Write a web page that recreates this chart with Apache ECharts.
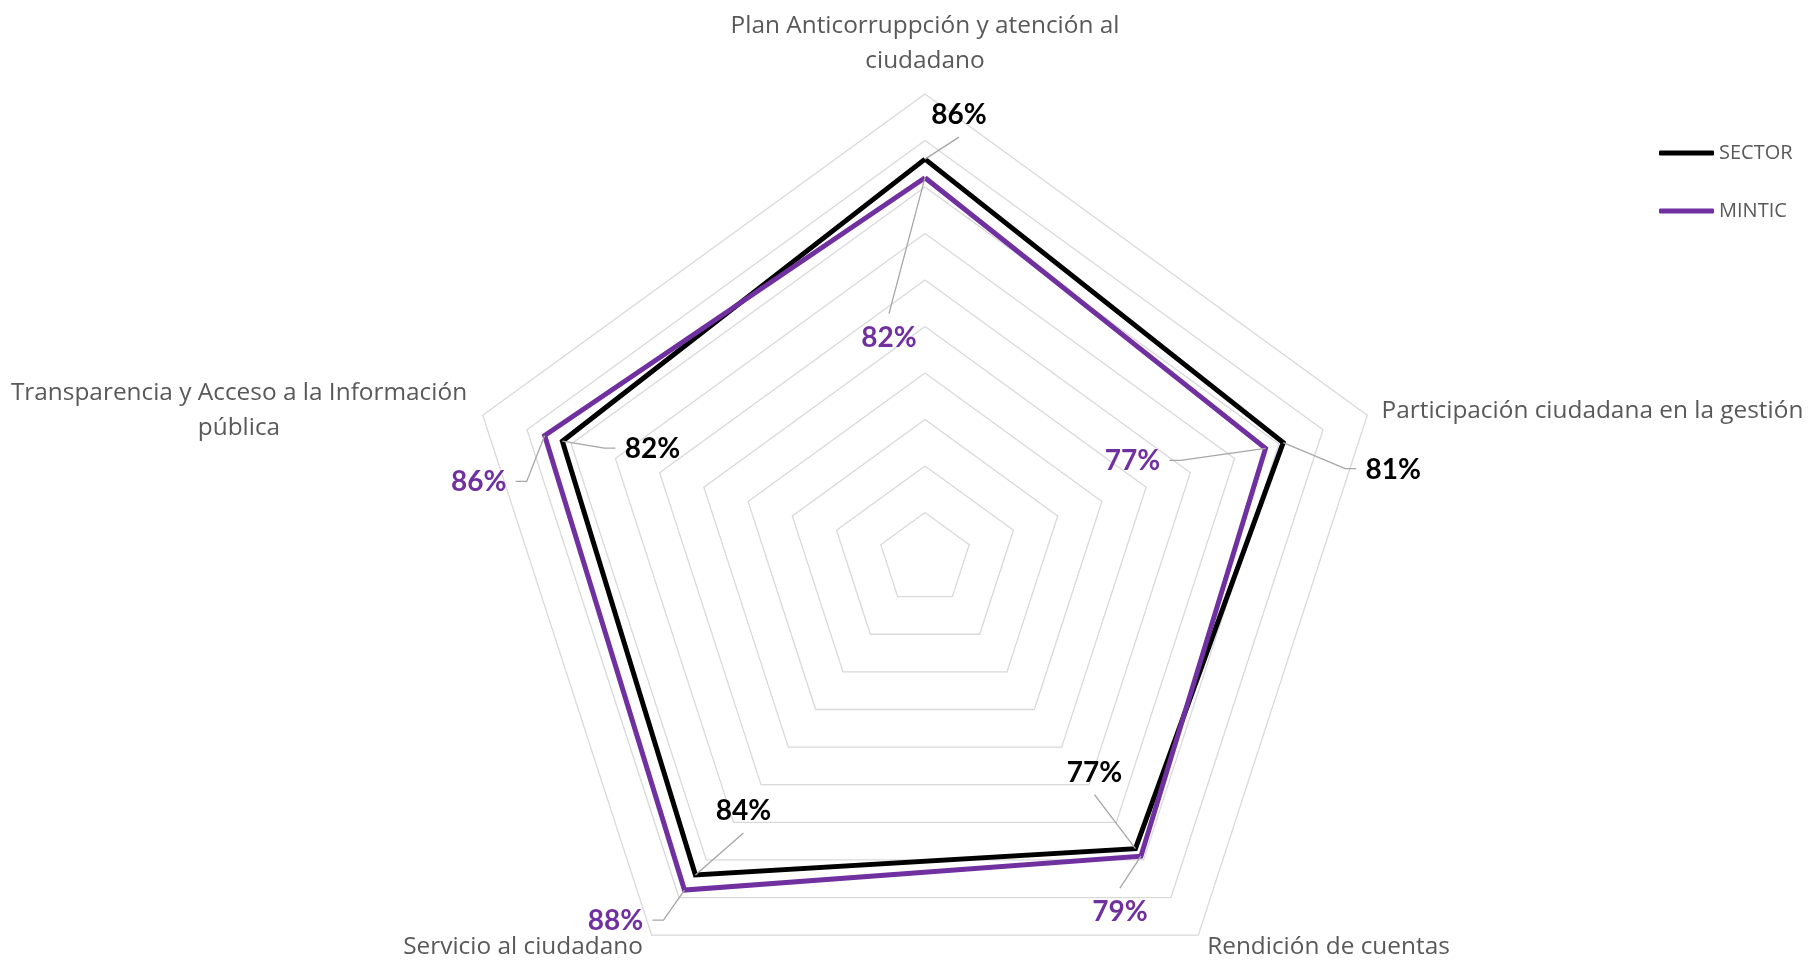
<!DOCTYPE html>
<html>
<head>
<meta charset="utf-8">
<script src="https://cdn.jsdelivr.net/npm/echarts@6/dist/echarts.min.js"></script>
<style>
  html, body { margin: 0; padding: 0; background: #ffffff; }
  #chart { width: 1810px; height: 961px; }
</style>
</head>
<body>
<div id="chart"></div>
<script>
// Ejes del radar, en orden antihorario a partir del eje superior
const indicators = [
  'Plan Anticorruppción y atención al\nciudadano',
  'Transparencia y Acceso a la Información\npública',
  'Servicio al ciudadano',
  'Rendición de cuentas',
  'Participación ciudadana en la gestión'
];
const seriesNames = ['SECTOR', 'MINTIC'];
const sectorValues = [86, 82, 84, 77, 81];
const minticValues = [82, 86, 88, 79, 77];

// Colores y tipografía
const COLORS = { SECTOR: '#000000', MINTIC: '#7030a0' };
const TEXT_GRAY = '#595959';
const NAME_FONT = 'Open Sans';
const LABEL_FONT = 'Lato';
const NAME_SIZE = 24.4;
const NAME_LINE = 35;
const CENTER = [925, 559];
const RADIUS = 465;

// Ubicación de cada etiqueta respecto a su vértice (px) y lado por el que entra la guía
const labelLayout = {
  SECTOR: [
    { dx: 34, dy: -44, leader: 'below' },
    { dx: 90, dy: 8, leader: 'left' },
    { dx: 48, dy: -64, leader: 'below' },
    { dx: -41, dy: -76, leader: 'below' },
    { dx: 110, dy: 27, leader: 'left' }
  ],
  MINTIC: [
    { dx: -36, dy: 160, leader: 'above' },
    { dx: -66, dy: 47, leader: 'right' },
    { dx: -69, dy: 31, leader: 'right' },
    { dx: -21, dy: 56, leader: 'above' },
    { dx: -133, dy: 13, leader: 'right' }
  ]
};

// Ancho del nombre de dos líneas que va centrado a la izquierda
const measureCtx = document.createElement('canvas').getContext('2d');
measureCtx.font = NAME_SIZE + 'px ' + NAME_FONT;
const leftNameWidth = Math.ceil(Math.max.apply(null,
  indicators[1].split('\n').map(s => measureCtx.measureText(s).width))) + 2;

function labelRenderer(layout, color) {
  return function (params, api) {
    const v = api.value(0);
    const p = api.coord([v, api.value(1)]);
    const L = layout[params.dataIndex];
    const cx = p[0] + L.dx;
    const cy = p[1] + L.dy;
    const hw = 27;
    let pts;
    if (L.leader === 'below') pts = [p, [cx, cy + 22]];
    else if (L.leader === 'above') pts = [p, [cx, cy - 24]];
    else if (L.leader === 'left') pts = [p, [cx - hw - 21, cy - 1], [cx - hw - 10, cy - 1]];
    else pts = [p, [cx + hw + 21, cy - 1], [cx + hw + 10, cy - 1]];
    return {
      type: 'group',
      children: [
        { type: 'polyline', shape: { points: pts },
          style: { stroke: '#a6a6a6', lineWidth: 1.3, fill: null } },
        { type: 'text', x: cx, y: cy,
          style: { text: v + '%', fill: color, font: 'bold 28px ' + LABEL_FONT,
                   align: 'center', verticalAlign: 'middle',
                   textAlign: 'center', textVerticalAlign: 'middle' } }
      ]
    };
  };
}

const angleStep = 360 / indicators.length;
const chart = echarts.init(document.getElementById('chart'), null, { renderer: 'canvas' });

chart.setOption({
  animation: false,
  backgroundColor: '#ffffff',
  legend: {
    data: seriesNames,
    orient: 'vertical',
    left: 1654,
    top: 136,
    itemWidth: 55,
    itemHeight: 5,
    itemGap: 34,
    icon: 'roundRect',
    selectedMode: false,
    textStyle: { color: TEXT_GRAY, fontSize: 20, fontFamily: NAME_FONT, lineHeight: 24 }
  },
  radar: {
    center: CENTER,
    radius: RADIUS,
    startAngle: 90,
    splitNumber: 10,
    shape: 'polygon',
    indicator: indicators.map(name => ({ name: name, min: 0, max: 100 })),
    nameGap: 15,
    axisName: {
      color: TEXT_GRAY,
      fontSize: NAME_SIZE,
      fontFamily: NAME_FONT,
      lineHeight: NAME_LINE,
      formatter: function (name) {
        if (name === indicators[1]) {
          return name.split('\n').map(s => '{c|' + s + '}').join('\n');
        }
        return name;
      },
      rich: {
        c: { width: leftNameWidth, align: 'center', color: TEXT_GRAY,
             fontSize: NAME_SIZE, fontFamily: NAME_FONT, lineHeight: NAME_LINE }
      }
    },
    axisLine: { show: false },
    axisTick: { show: false },
    axisLabel: { show: false },
    splitArea: { show: false },
    splitLine: { lineStyle: { color: '#d9d9d9', width: 1.3 } }
  },
  polar: { center: CENTER, radius: RADIUS },
  angleAxis: { type: 'value', min: 0, max: 360, startAngle: 90, clockwise: false, show: false },
  radiusAxis: { type: 'value', min: 0, max: 100, show: false },
  series: [
    {
      type: 'radar',
      symbol: 'none',
      silent: true,
      data: [
        { name: 'SECTOR', value: sectorValues,
          lineStyle: { color: COLORS.SECTOR, width: 5, join: 'miter' },
          itemStyle: { color: COLORS.SECTOR } },
        { name: 'MINTIC', value: minticValues,
          lineStyle: { color: COLORS.MINTIC, width: 5, join: 'miter' },
          itemStyle: { color: COLORS.MINTIC } }
      ]
    },
    {
      type: 'custom',
      name: 'etiquetas SECTOR',
      coordinateSystem: 'polar',
      silent: true,
      z: 3,
      data: sectorValues.map((v, i) => [v, i * angleStep]),
      renderItem: labelRenderer(labelLayout.SECTOR, COLORS.SECTOR)
    },
    {
      type: 'custom',
      name: 'etiquetas MINTIC',
      coordinateSystem: 'polar',
      silent: true,
      z: 3,
      data: minticValues.map((v, i) => [v, i * angleStep]),
      renderItem: labelRenderer(labelLayout.MINTIC, COLORS.MINTIC)
    }
  ]
});
</script>
</body>
</html>
